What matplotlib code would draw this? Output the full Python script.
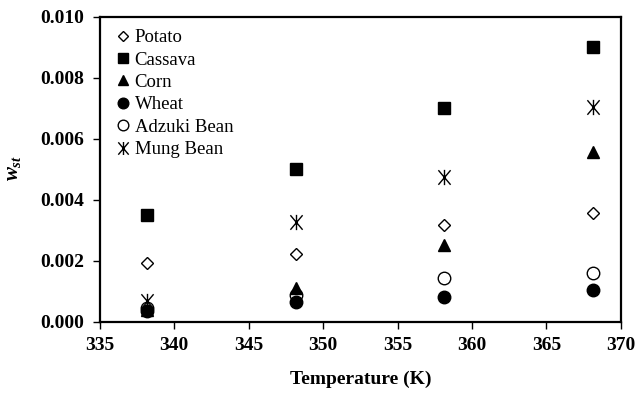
import matplotlib
matplotlib.use("Agg")
import matplotlib.pyplot as plt
from matplotlib.path import Path

plt.rcParams['font.family'] = ['Liberation Serif', 'DejaVu Serif']
plt.rcParams['mathtext.fontset'] = 'custom'
plt.rcParams['mathtext.it'] = 'Liberation Serif:italic:bold'
plt.rcParams['mathtext.rm'] = 'Liberation Serif:bold'

temps = [338.15, 348.15, 358.15, 368.15]
potato = [0.00193, 0.00223, 0.00318, 0.00357]
cassava = [0.0035, 0.0050, 0.0070, 0.0090]
corn = [0.00040, 0.00111, 0.00252, 0.00557]
wheat = [0.00036, 0.00066, 0.00082, 0.00105]
adzuki = [0.00045, 0.00090, 0.00144, 0.00160]
mung = [0.00069, 0.00328, 0.00475, 0.00705]

xticks = [335, 340, 345, 350, 355, 360, 365, 370]
yticks = [0.000, 0.002, 0.004, 0.006, 0.008, 0.010]

# "Ж"-like marker: vertical stroke plus an X
verts = [(0, -1), (0, 1), (-0.8, -0.95), (0.8, 0.95), (-0.8, 0.95), (0.8, -0.95)]
codes = [Path.MOVETO, Path.LINETO, Path.MOVETO, Path.LINETO, Path.MOVETO, Path.LINETO]
mung_marker = Path(verts, codes)

fig = plt.figure(figsize=(6.36, 4.03), dpi=100)
ax = fig.add_axes([0.157, 0.201, 0.819, 0.757])

ax.plot(temps, potato, linestyle='none', marker='D', markersize=6, mfc='white', mec='black', mew=1.0, label='Potato', zorder=3)
ax.plot(temps, cassava, linestyle='none', marker='s', markersize=8, color='black', label='Cassava', zorder=3)
ax.plot(temps, corn, linestyle='none', marker='^', markersize=9, color='black', label='Corn', zorder=3)
ax.plot(temps, wheat, linestyle='none', marker='o', markersize=9, color='black', label='Wheat', zorder=3)
ax.plot(temps, adzuki, linestyle='none', marker='o', markersize=9, mfc='white', mec='black', mew=1.0, label='Adzuki Bean', zorder=2)
ax.plot(temps, mung, linestyle='none', marker=mung_marker, markersize=11, color='black', mew=1.0, label='Mung Bean', zorder=3)

ax.set_xlim(335, 370)
ax.set_ylim(0, 0.010)
ax.set_xticks(xticks)
ax.set_yticks(yticks)
ax.set_xticklabels([str(t) for t in xticks], fontsize=14, fontweight='bold')
ax.set_yticklabels([f"{t:.3f}" for t in yticks], fontsize=14, fontweight='bold')
ax.tick_params(direction='out', length=5, width=1, pad=6)
for s in ax.spines.values():
    s.set_linewidth(1.6)

ax.set_xlabel('Temperature (K)', fontsize=14, fontweight='bold', labelpad=12)
ax.set_ylabel(r'$w_{st}$', fontsize=15)
ax.yaxis.set_label_coords(-0.148, 0.505)

leg = ax.legend(loc='upper left', frameon=False, fontsize=13.5, handletextpad=0.0,
                labelspacing=0.28, borderaxespad=0.25, handlelength=1.2, markerscale=0.85)

fig.savefig('out.png', dpi=100)
